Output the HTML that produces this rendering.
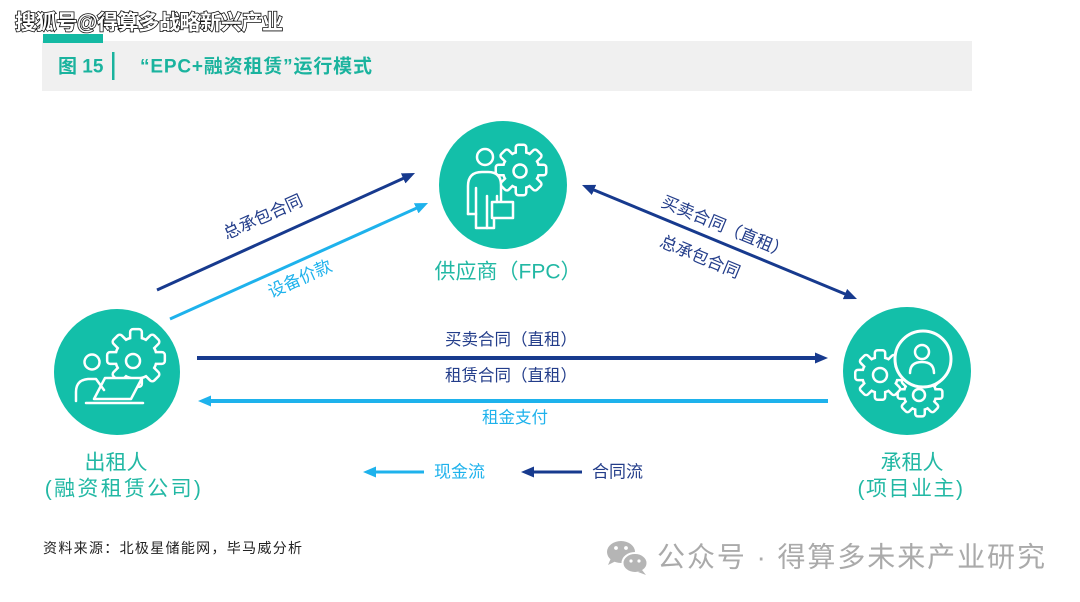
<!DOCTYPE html>
<html>
<head>
<meta charset="utf-8">
<style>
html,body{margin:0;padding:0;background:#fff;}
svg{display:block;}
text{font-family:"Liberation Sans","Noto Sans CJK SC",sans-serif;}
</style>
</head>
<body>
<svg width="1080" height="602" viewBox="0 0 1080 602" xmlns="http://www.w3.org/2000/svg">
<defs>
  <marker id="mN" viewBox="0 0 13 11" refX="1" refY="5.5" markerWidth="13" markerHeight="11" markerUnits="userSpaceOnUse" orient="auto-start-reverse">
    <path d="M0,0 L13,5.5 L0,11 z" fill="#173a8e"/>
  </marker>
  <marker id="mL" viewBox="0 0 13 11" refX="1" refY="5.5" markerWidth="13" markerHeight="11" markerUnits="userSpaceOnUse" orient="auto-start-reverse">
    <path d="M0,0 L13,5.5 L0,11 z" fill="#1eb2ec"/>
  </marker>
  <g id="gearS">
    <circle r="17"/>
    <rect x="-4" y="-24" width="8" height="9" rx="1.5"/>
    <rect x="-4" y="-24" width="8" height="9" rx="1.5" transform="rotate(45)"/>
    <rect x="-4" y="-24" width="8" height="9" rx="1.5" transform="rotate(90)"/>
    <rect x="-4" y="-24" width="8" height="9" rx="1.5" transform="rotate(135)"/>
    <rect x="-4" y="-24" width="8" height="9" rx="1.5" transform="rotate(180)"/>
    <rect x="-4" y="-24" width="8" height="9" rx="1.5" transform="rotate(225)"/>
    <rect x="-4" y="-24" width="8" height="9" rx="1.5" transform="rotate(270)"/>
    <rect x="-4" y="-24" width="8" height="9" rx="1.5" transform="rotate(315)"/>
  </g>
</defs>

<!-- top-left watermark -->
<text x="15" y="23" font-size="21" font-weight="bold" fill="#fff" stroke="#111" stroke-width="1.6" paint-order="stroke" dominant-baseline="central" textLength="268" lengthAdjust="spacing">搜狐号@得算多战略新兴产业</text>

<!-- header -->
<rect x="42" y="41" width="930" height="50" fill="#f0f0f0"/>
<rect x="43" y="34" width="60" height="9" fill="#14b9a3"/>
<text x="58" y="67" font-size="19" font-weight="bold" fill="#1ab39e" dominant-baseline="central">图 15</text>
<rect x="112" y="52" width="2.5" height="28" fill="#1ab39e"/>
<text x="140" y="67" font-size="19" font-weight="bold" fill="#1ab39e" dominant-baseline="central" textLength="232" lengthAdjust="spacing">“EPC+融资租赁”运行模式</text>

<!-- circles -->
<circle cx="503" cy="185" r="64" fill="#13bfa9"/>
<circle cx="117" cy="372" r="63" fill="#13bfa9"/>
<circle cx="907" cy="371" r="64" fill="#13bfa9"/>

<!-- FPC icon -->
<use href="#gearS" transform="translate(521,170)" fill="#fff" stroke="#fff" stroke-width="5" stroke-linejoin="round"/>
<use href="#gearS" transform="translate(521,170)" fill="#13bfa9"/>
<circle cx="520" cy="171" r="6.5" fill="none" stroke="#fff" stroke-width="2.5"/>
<g fill="none" stroke="#fff" stroke-width="2.5" stroke-linejoin="round" stroke-linecap="round">
  <path d="M468,214 V186 Q468,172 482,172 H488 Q501,172 501,185 V202" fill="#13bfa9"/>
  <circle cx="485" cy="157" r="8" fill="#13bfa9"/>
  <path d="M468,214 H476"/>
  <path d="M476,188 V228 H487 V196"/>
  <path d="M487,228 H494 V218"/>
  <rect x="492" y="202" width="21" height="16" fill="#13bfa9"/>
  <path d="M497,196 V202"/>
</g>

<!-- left icon -->
<use href="#gearS" transform="translate(136,358) scale(1.15)" fill="#fff" stroke="#fff" stroke-width="4.35" stroke-linejoin="round"/>
<use href="#gearS" transform="translate(136,358) scale(1.15)" fill="#13bfa9"/>
<circle cx="133" cy="361" r="7" fill="none" stroke="#fff" stroke-width="2.5"/>
<g fill="none" stroke="#fff" stroke-width="2.5" stroke-linejoin="round" stroke-linecap="round">
  <polygon points="105,378 142,378 131,399 94,399" fill="#13bfa9"/>
  <circle cx="92" cy="362" r="7.5" fill="#13bfa9"/>
  <path d="M76,401 V392 Q76,380 88,379 H96 L104,390"/>
  <path d="M86,403 H143"/>
</g>

<!-- right icon -->
<use href="#gearS" transform="translate(920,394) scale(0.88)" fill="#fff" stroke="#fff" stroke-width="5.7" stroke-linejoin="round"/>
<use href="#gearS" transform="translate(920,394) scale(0.88)" fill="#13bfa9"/>
<circle cx="919" cy="395" r="6" fill="none" stroke="#fff" stroke-width="2.5"/>
<use href="#gearS" transform="translate(880,375) scale(0.98)" fill="#fff" stroke="#fff" stroke-width="5.1" stroke-linejoin="round"/>
<use href="#gearS" transform="translate(880,375) scale(0.98)" fill="#13bfa9"/>
<circle cx="880" cy="375" r="7" fill="none" stroke="#fff" stroke-width="2.5"/>
<circle cx="923" cy="359" r="28" fill="#13bfa9" stroke="#fff" stroke-width="3"/>
<g fill="none" stroke="#fff" stroke-width="2.5" stroke-linecap="round">
  <circle cx="922" cy="352" r="7"/>
  <path d="M910,373 Q910,362 922,362 Q934,362 934,373"/>
</g>

<!-- node labels -->
<g fill="#22b8a4" font-size="21" text-anchor="middle" dominant-baseline="central">
  <text x="508" y="272">供应商（FPC）</text>
  <text x="116" y="463">出租人</text>
  <text x="124" y="489" letter-spacing="2.3">(融资租赁公司)</text>
  <text x="912" y="463">承租人</text>
  <text x="911" y="489" letter-spacing="1.5">(项目业主)</text>
</g>

<!-- connectors -->
<line x1="157" y1="290" x2="404.1" y2="178.0" stroke="#173a8e" stroke-width="3" marker-end="url(#mN)"/>
<line x1="170" y1="319" x2="417.1" y2="207.9" stroke="#1eb2ec" stroke-width="3" marker-end="url(#mL)"/>
<line x1="593.1" y1="189.6" x2="845.9" y2="294.4" stroke="#173a8e" stroke-width="3" marker-start="url(#mN)" marker-end="url(#mN)"/>
<line x1="197" y1="358" x2="816" y2="358" stroke="#173a8e" stroke-width="4" marker-end="url(#mN)"/>
<line x1="828" y1="401" x2="210" y2="401" stroke="#1eb2ec" stroke-width="4" marker-end="url(#mL)"/>

<!-- connector labels -->
<g font-size="17" text-anchor="middle" dominant-baseline="central">
  <text x="263" y="217" fill="#233d8a" transform="rotate(-24.2 263 217)">总承包合同</text>
  <text x="300" y="279" fill="#1eb2ec" transform="rotate(-24.2 300 279)">设备价款</text>
  <text x="725" y="227" fill="#233d8a" transform="rotate(22.5 725 227)">买卖合同（直租）</text>
  <text x="700" y="257" fill="#233d8a" transform="rotate(22.5 700 257)">总承包合同</text>
</g>
<g font-size="16.5" text-anchor="middle" dominant-baseline="central">
  <text x="511" y="340" fill="#233d8a">买卖合同（直租）</text>
  <text x="511" y="376" fill="#233d8a">租赁合同（直租）</text>
  <text x="515" y="418" fill="#1eb2ec">租金支付</text>
</g>

<!-- legend -->
<line x1="424" y1="472" x2="375" y2="472" stroke="#1eb2ec" stroke-width="3" marker-end="url(#mL)"/>
<text x="434" y="472" font-size="17" fill="#1eb2ec" dominant-baseline="central">现金流</text>
<line x1="582" y1="472" x2="533" y2="472" stroke="#173a8e" stroke-width="3" marker-end="url(#mN)"/>
<text x="592" y="472" font-size="17" fill="#233d8a" dominant-baseline="central">合同流</text>

<!-- source -->
<text x="43" y="548" font-size="14" fill="#222" dominant-baseline="central" textLength="259" lengthAdjust="spacing">资料来源：北极星储能网，毕马威分析</text>

<!-- bottom watermark -->
<ellipse cx="621" cy="552" rx="14" ry="11" fill="#b5b5b5"/>
<path d="M611,558 L608,565 L616,561 z" fill="#b5b5b5"/>
<ellipse cx="635" cy="563" rx="12.5" ry="10" fill="#b5b5b5" stroke="#fff" stroke-width="2"/>
<path d="M642,570 L646,575 L638,572 z" fill="#b5b5b5"/>
<circle cx="616" cy="548" r="1.9" fill="#fff"/>
<circle cx="626" cy="548" r="1.9" fill="#fff"/>
<circle cx="631" cy="561" r="1.6" fill="#fff"/>
<circle cx="639" cy="561" r="1.6" fill="#fff"/>
<text x="657" y="557" font-size="28" fill="#aaaaaa" dominant-baseline="central" textLength="388" lengthAdjust="spacing">公众号 · 得算多未来产业研究</text>
</svg>
</body>
</html>
